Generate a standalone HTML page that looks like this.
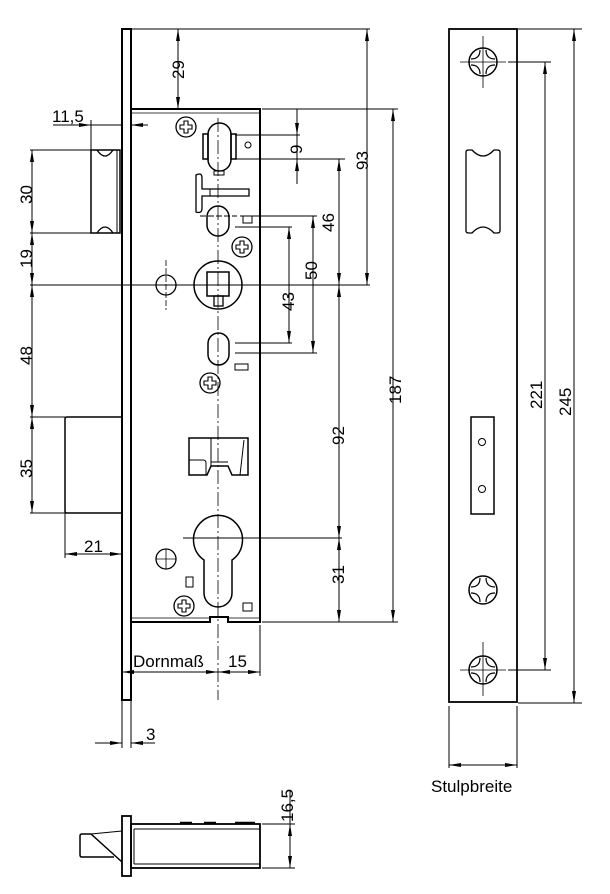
<!DOCTYPE html>
<html><head><meta charset="utf-8"><style>
html,body{margin:0;padding:0;background:#fff;}
svg{display:block;}
text{font-family:"Liberation Sans","DejaVu Sans",sans-serif;font-size:17px;fill:#000;}
</style></head><body>
<svg width="610" height="894" viewBox="0 0 610 894" xmlns="http://www.w3.org/2000/svg">
<defs>
<marker id="a" viewBox="0 0 12 4" refX="12" refY="2" markerWidth="12" markerHeight="4" markerUnits="userSpaceOnUse" orient="auto-start-reverse">
<path d="M0,0 L12,2 L0,4 z" fill="#000"/></marker>
<g id="scr"><circle r="10" fill="none" stroke="#000" stroke-width="1.3"/><path d="M-2,-6 h4 v4 h4 v4 h-4 v4 h-4 v-4 h-4 v-4 h4 z" fill="none" stroke="#000" stroke-width="1.1"/></g>
<g id="ph"><circle r="14" fill="none" stroke="#000" stroke-width="1.5"/><path d="M-3,-12 Q-3,-3 -12,-3 M3,-12 Q3,-3 12,-3 M12,3 Q3,3 3,12 M-3,12 Q-3,3 -12,3" fill="none" stroke="#000" stroke-width="1.2"/></g>
</defs>
<g fill="none" stroke="#000" stroke-width="1">
<rect x="122" y="29" width="9" height="671" stroke-width="2"/>
<line x1="122" y1="700" x2="122" y2="748"/><line x1="131" y1="700" x2="131" y2="748"/>
<path d="M131,109 H260 V622 H228 V617 H210 V622 H131" stroke-width="2"/>
<line x1="131" y1="113" x2="260" y2="113" stroke-width="0.8"/>
<line x1="131" y1="618" x2="210" y2="618" stroke-width="0.8"/>
<line x1="228" y1="618" x2="260" y2="618" stroke-width="0.8"/>
<path d="M91,150 H120 V233 H91 Z" stroke-width="1.5"/>
<line x1="117" y1="150" x2="117" y2="233"/>
<path d="M97,150 Q105,162 113,150 M97,233 Q105,221 113,233" stroke-width="1.3"/>
<path d="M122,417 H67 Q65,417 65,419 V511 Q65,513 67,513 H122" stroke-width="1.5"/>
<line x1="218" y1="118" x2="218" y2="700" stroke-dasharray="14,3,2,3" stroke-width="0.8"/>
<rect x="208" y="123" width="23" height="48" rx="11.5" stroke-width="1.5"/>
<rect x="203" y="134" width="5" height="25" stroke-width="1.5"/><rect x="231" y="134" width="5" height="25" stroke-width="1.5"/>
<rect x="214" y="171" width="10" height="4"/>
<circle cx="248" cy="145" r="3"/>
<path d="M196,175 Q202,172 202,178 V189 H249 V196 H202 V208 Q202,214 196,212 Z" stroke-width="1.3"/>
<line x1="210" y1="189" x2="210" y2="196"/>
<rect x="207" y="206" width="22" height="30" rx="11" stroke-width="1.5"/>
<rect x="243" y="216" width="9" height="7"/>
<line x1="200" y1="216" x2="237" y2="216" stroke-dasharray="6,2"/>
<use href="#scr" x="242" y="247"/>
<use href="#scr" x="186" y="127"/>
<circle cx="218" cy="285" r="24" stroke-width="1.5"/>
<rect x="207" y="272" width="22" height="24" stroke-width="1.5"/>
<rect x="214" y="296" width="9" height="10" stroke-width="1.3"/>
<circle cx="166" cy="285" r="10" stroke-width="1.3"/>
<line x1="166" y1="260" x2="166" y2="310" stroke-dasharray="6,2" stroke-width="0.8"/>
<rect x="208" y="333" width="21" height="32" rx="10.5" stroke-width="1.5"/>
<rect x="235" y="364" width="13" height="6"/>
<use href="#scr" x="210" y="383"/>
<path d="M189,438 H248 V475 H232 L228,466 H211 L207,475 H189 Z" stroke-width="1.5"/>
<path d="M189,460 H203 Q206,460 206,463 V475 M211,438 V466 M211,462 H228 M244,440 L240,475" stroke-width="1"/>
<path d="M204,560 A24.5,24.5 0 1 1 232,560 V593 A14,14 0 0 1 204,593 Z" stroke-width="1.5"/>
<circle cx="166" cy="559" r="10" stroke-width="1.3"/>
<line x1="156" y1="559" x2="176" y2="559" stroke-width="0.8"/><line x1="166" y1="549" x2="166" y2="569" stroke-width="0.8"/>
<rect x="186" y="577" width="7" height="10"/>
<use href="#scr" x="184" y="606"/>
<rect x="243" y="603" width="9" height="8"/>
<line x1="131" y1="29" x2="370" y2="29"/>
<line x1="262" y1="109" x2="398" y2="109"/>
<line x1="262" y1="622" x2="398" y2="622"/>
<line x1="30" y1="150" x2="91" y2="150"/>
<line x1="30" y1="233" x2="91" y2="233"/>
<line x1="30" y1="285" x2="370" y2="285"/>
<line x1="30" y1="417" x2="65" y2="417"/>
<line x1="30" y1="513" x2="122" y2="513"/>
<line x1="235" y1="135" x2="300" y2="135"/>
<line x1="235" y1="159" x2="345" y2="159"/>
<line x1="240" y1="216" x2="317" y2="216"/>
<line x1="235" y1="227" x2="292" y2="227"/>
<line x1="235" y1="343" x2="292" y2="343"/>
<line x1="235" y1="353" x2="317" y2="353"/>
<line x1="183" y1="538" x2="342" y2="538"/>
<line x1="91" y1="120" x2="91" y2="150"/>
<line x1="65" y1="513" x2="65" y2="558"/>
<line x1="260" y1="625" x2="260" y2="676"/>
<line x1="178" y1="29" x2="178" y2="109" marker-start="url(#a)" marker-end="url(#a)"/>
<line x1="367" y1="29" x2="367" y2="285" marker-start="url(#a)" marker-end="url(#a)"/>
<line x1="393" y1="109" x2="393" y2="622" marker-start="url(#a)" marker-end="url(#a)"/>
<line x1="297" y1="109" x2="297" y2="135" marker-end="url(#a)"/>
<line x1="297" y1="184" x2="297" y2="159" marker-end="url(#a)"/>
<line x1="297" y1="135" x2="297" y2="159"/>
<line x1="339" y1="159" x2="339" y2="285" marker-start="url(#a)" marker-end="url(#a)"/>
<line x1="339" y1="285" x2="339" y2="538" marker-start="url(#a)" marker-end="url(#a)"/>
<line x1="339" y1="538" x2="339" y2="622" marker-start="url(#a)" marker-end="url(#a)"/>
<line x1="313" y1="216" x2="313" y2="353" marker-start="url(#a)" marker-end="url(#a)"/>
<line x1="289" y1="227" x2="289" y2="343" marker-start="url(#a)" marker-end="url(#a)"/>
<line x1="32" y1="150" x2="32" y2="233" marker-start="url(#a)" marker-end="url(#a)"/>
<line x1="32" y1="233" x2="32" y2="285" marker-start="url(#a)" marker-end="url(#a)"/>
<line x1="32" y1="285" x2="32" y2="417" marker-start="url(#a)" marker-end="url(#a)"/>
<line x1="32" y1="417" x2="32" y2="513" marker-start="url(#a)" marker-end="url(#a)"/>
<line x1="53" y1="125" x2="91" y2="125" marker-end="url(#a)"/>
<line x1="148" y1="125" x2="131" y2="125" marker-end="url(#a)"/>
<line x1="91" y1="125" x2="122" y2="125"/>
<line x1="65" y1="554" x2="122" y2="554" marker-start="url(#a)" marker-end="url(#a)"/>
<line x1="122" y1="672" x2="218" y2="672" marker-start="url(#a)" marker-end="url(#a)"/>
<line x1="218" y1="672" x2="260" y2="672" marker-start="url(#a)" marker-end="url(#a)"/>
<line x1="95" y1="743" x2="122" y2="743" marker-end="url(#a)"/>
<line x1="155" y1="743" x2="131" y2="743" marker-end="url(#a)"/>
<rect x="449" y="29" width="68" height="673" stroke-width="1.8"/>
<path d="M466,152 Q466,150 469,150 L472,150 Q483,162 494,150 L497,150 Q500,150 500,152 V231 Q500,233 497,233 L494,233 Q483,221 472,233 L469,233 Q466,233 466,231 Z" stroke-width="1.3"/>
<rect x="471" y="417" width="23" height="97" stroke-width="1.5"/>
<circle cx="482" cy="442" r="3.5"/><circle cx="482" cy="489" r="3.5"/>
<use href="#ph" x="483" y="62"/><use href="#ph" x="483" y="590"/><use href="#ph" x="483" y="670"/>
<line x1="460" y1="62" x2="506" y2="62" stroke-width="0.8"/><line x1="483" y1="36" x2="483" y2="88" stroke-width="0.8"/>
<line x1="460" y1="670" x2="506" y2="670" stroke-width="0.8"/><line x1="483" y1="642" x2="483" y2="696" stroke-width="0.8"/>
<line x1="508" y1="62" x2="551" y2="62"/><line x1="508" y1="670" x2="551" y2="670"/>
<line x1="518" y1="29" x2="582" y2="29"/><line x1="518" y1="703" x2="582" y2="703"/>
<line x1="545" y1="62" x2="545" y2="670" marker-start="url(#a)" marker-end="url(#a)"/>
<line x1="574" y1="29" x2="574" y2="703" marker-start="url(#a)" marker-end="url(#a)"/>
<line x1="449" y1="706" x2="449" y2="768"/><line x1="517" y1="706" x2="517" y2="768"/>
<line x1="449" y1="765" x2="517" y2="765" marker-start="url(#a)" marker-end="url(#a)"/>
<rect x="122" y="816" width="9" height="60" stroke-width="1.8"/>
<rect x="131" y="824" width="129" height="44" stroke-width="1.8"/>
<line x1="134" y1="829" x2="134" y2="864"/><line x1="134" y1="829" x2="260" y2="829"/><line x1="134" y1="864" x2="260" y2="864"/>
<path d="M180,823 H192 M204,823 H216 M235,823 H255" stroke-width="2.5"/>
<path d="M122,862 L91,834 H82 Q80,834 80,836 V855 Q80,857 82,857 H114" stroke-width="1.5"/>
<line x1="91" y1="834" x2="122" y2="831"/>
<line x1="262" y1="824" x2="295" y2="824"/><line x1="262" y1="868" x2="295" y2="868"/>
<line x1="290" y1="790" x2="290" y2="824"/>
<line x1="290" y1="824" x2="290" y2="868" marker-start="url(#a)" marker-end="url(#a)"/>
</g>
<text transform="translate(184,79) rotate(-90)">29</text>
<text transform="translate(302,154) rotate(-90)">9</text>
<text transform="translate(368,170) rotate(-90)">93</text>
<text transform="translate(334,232) rotate(-90)">46</text>
<text transform="translate(317,280) rotate(-90)">50</text>
<text transform="translate(294,311) rotate(-90)">43</text>
<text transform="translate(344,445) rotate(-90)">92</text>
<text transform="translate(344,584) rotate(-90)">31</text>
<text transform="translate(401,404) rotate(-90)">187</text>
<text transform="translate(32,204) rotate(-90)">30</text>
<text transform="translate(32,268) rotate(-90)">19</text>
<text transform="translate(32,365) rotate(-90)">48</text>
<text transform="translate(32,478) rotate(-90)">35</text>
<text transform="translate(542,409) rotate(-90)">221</text>
<text transform="translate(571,416) rotate(-90)">245</text>
<text transform="translate(293,822) rotate(-90)">16,5</text>
<text x="52" y="122">11,5</text>
<text x="84" y="552">21</text>
<text x="133" y="667">Dornmaß</text>
<text x="228" y="667">15</text>
<text x="146" y="740">3</text>
<text x="431" y="792">Stulpbreite</text>
</svg>
</body></html>
